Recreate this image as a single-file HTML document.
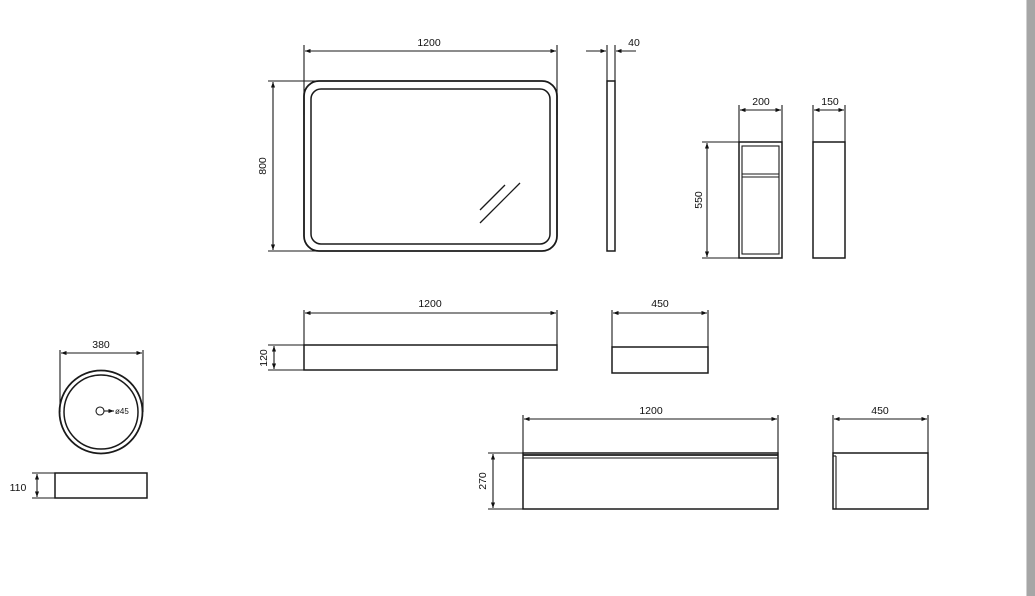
<!DOCTYPE html>
<html><head><meta charset="utf-8"><style>
html,body{margin:0;padding:0;background:#fff;width:1035px;height:596px;overflow:hidden}
svg{display:block}
text{font-family:"Liberation Sans",sans-serif;font-size:10.5px;fill:#111}
</style></head><body>
<svg width="1035" height="596" viewBox="0 0 1035 596" xmlns="http://www.w3.org/2000/svg">
<defs>
<marker id="a" viewBox="0 0 8 6" refX="8" refY="3" markerWidth="5" markerHeight="4" orient="auto-start-reverse"><path d="M0,0L8,3L0,6z" fill="#111"/></marker>
</defs>
<g stroke="#1a1a1a" stroke-width="1.1" fill="none">
<rect x="304" y="81" width="253" height="170" rx="15" stroke-width="1.8"/>
<rect x="311" y="89" width="239" height="155" rx="10" stroke-width="1.5"/>
<line x1="480" y1="210" x2="505" y2="185" stroke-width="1.3"/>
<line x1="480" y1="223" x2="520" y2="183" stroke-width="1.3"/>
<line x1="304" y1="45" x2="304" y2="115"/>
<line x1="557" y1="45" x2="557" y2="115"/>
<line x1="305" y1="51" x2="556" y2="51" marker-start="url(#a)" marker-end="url(#a)"/>
<line x1="268" y1="81" x2="335" y2="81"/>
<line x1="268" y1="251" x2="335" y2="251"/>
<line x1="273" y1="82" x2="273" y2="250" marker-start="url(#a)" marker-end="url(#a)"/>
<rect x="607" y="81" width="8" height="170" stroke-width="1.5"/>
<line x1="607" y1="45" x2="607" y2="81"/>
<line x1="615" y1="45" x2="615" y2="81"/>
<line x1="586" y1="51" x2="606" y2="51" marker-end="url(#a)"/>
<line x1="636" y1="51" x2="616" y2="51" marker-end="url(#a)"/>
<rect x="739" y="142" width="43" height="116" stroke-width="1.5"/>
<rect x="742" y="146" width="37" height="108"/>
<line x1="742" y1="174" x2="779" y2="174"/>
<line x1="742" y1="177" x2="779" y2="177"/>
<line x1="739" y1="105" x2="739" y2="142"/>
<line x1="782" y1="105" x2="782" y2="142"/>
<line x1="740" y1="110" x2="781" y2="110" marker-start="url(#a)" marker-end="url(#a)"/>
<line x1="702" y1="142" x2="739" y2="142"/>
<line x1="702" y1="258" x2="739" y2="258"/>
<line x1="707" y1="143" x2="707" y2="257" marker-start="url(#a)" marker-end="url(#a)"/>
<rect x="813" y="142" width="32" height="116" stroke-width="1.5"/>
<line x1="813" y1="105" x2="813" y2="142"/>
<line x1="845" y1="105" x2="845" y2="142"/>
<line x1="814" y1="110" x2="844" y2="110" marker-start="url(#a)" marker-end="url(#a)"/>
<circle cx="101" cy="412" r="41.5" stroke-width="1.8"/>
<circle cx="101" cy="412" r="37" stroke-width="1.5"/>
<circle cx="100" cy="411" r="4"/>
<line x1="104" y1="411" x2="114" y2="411" marker-end="url(#a)"/>
<line x1="60" y1="350" x2="60" y2="412"/>
<line x1="143" y1="350" x2="143" y2="412"/>
<line x1="61" y1="353" x2="142" y2="353" marker-start="url(#a)" marker-end="url(#a)"/>
<rect x="55" y="473" width="92" height="25" stroke-width="1.5"/>
<line x1="32" y1="473" x2="55" y2="473"/>
<line x1="32" y1="498" x2="55" y2="498"/>
<line x1="37" y1="474" x2="37" y2="497" marker-start="url(#a)" marker-end="url(#a)"/>
<rect x="304" y="345" width="253" height="25" stroke-width="1.5"/>
<line x1="304" y1="310" x2="304" y2="345"/>
<line x1="557" y1="310" x2="557" y2="345"/>
<line x1="305" y1="313" x2="556" y2="313" marker-start="url(#a)" marker-end="url(#a)"/>
<line x1="268" y1="345" x2="304" y2="345"/>
<line x1="268" y1="370" x2="304" y2="370"/>
<line x1="274" y1="346" x2="274" y2="369" marker-start="url(#a)" marker-end="url(#a)"/>
<rect x="612" y="347" width="96" height="26" stroke-width="1.5"/>
<line x1="612" y1="310" x2="612" y2="347"/>
<line x1="708" y1="310" x2="708" y2="347"/>
<line x1="613" y1="313" x2="707" y2="313" marker-start="url(#a)" marker-end="url(#a)"/>
<rect x="523" y="453" width="255" height="56" stroke-width="1.5"/>
<line x1="523" y1="455" x2="778" y2="455" stroke-width="1.7"/>
<line x1="523" y1="458" x2="778" y2="458"/>
<line x1="523" y1="415" x2="523" y2="453"/>
<line x1="778" y1="415" x2="778" y2="453"/>
<line x1="524" y1="419" x2="777" y2="419" marker-start="url(#a)" marker-end="url(#a)"/>
<line x1="488" y1="453" x2="523" y2="453"/>
<line x1="488" y1="509" x2="523" y2="509"/>
<line x1="493" y1="454" x2="493" y2="508" marker-start="url(#a)" marker-end="url(#a)"/>
<rect x="833" y="453" width="95" height="56" stroke-width="1.5"/>
<line x1="836" y1="456" x2="836" y2="509"/>
<line x1="833" y1="456" x2="836" y2="456"/>
<line x1="833" y1="415" x2="833" y2="453"/>
<line x1="928" y1="415" x2="928" y2="453"/>
<line x1="834" y1="419" x2="927" y2="419" marker-start="url(#a)" marker-end="url(#a)"/>
</g>
<g text-anchor="middle">
<text x="429" y="46">1200</text>
<text x="634" y="46">40</text>
<text x="761" y="105">200</text>
<text x="830" y="105">150</text>
<text x="101" y="348">380</text>
<text x="430" y="307">1200</text>
<text x="660" y="307">450</text>
<text x="651" y="414">1200</text>
<text x="880" y="414">450</text>
<text x="18" y="491">110</text>
<text transform="translate(266,166) rotate(-90)">800</text>
<text transform="translate(702,200) rotate(-90)">550</text>
<text transform="translate(267,358) rotate(-90)">120</text>
<text transform="translate(486,481) rotate(-90)">270</text>
</g>
<text x="115" y="414" style="font-size:8px">ø45</text>
<rect x="1027" y="0" width="8" height="596" fill="#a6a6a6"/>
<line x1="1026.5" y1="0" x2="1026.5" y2="596" stroke="#d0d0d0"/>
</svg>
</body></html>
